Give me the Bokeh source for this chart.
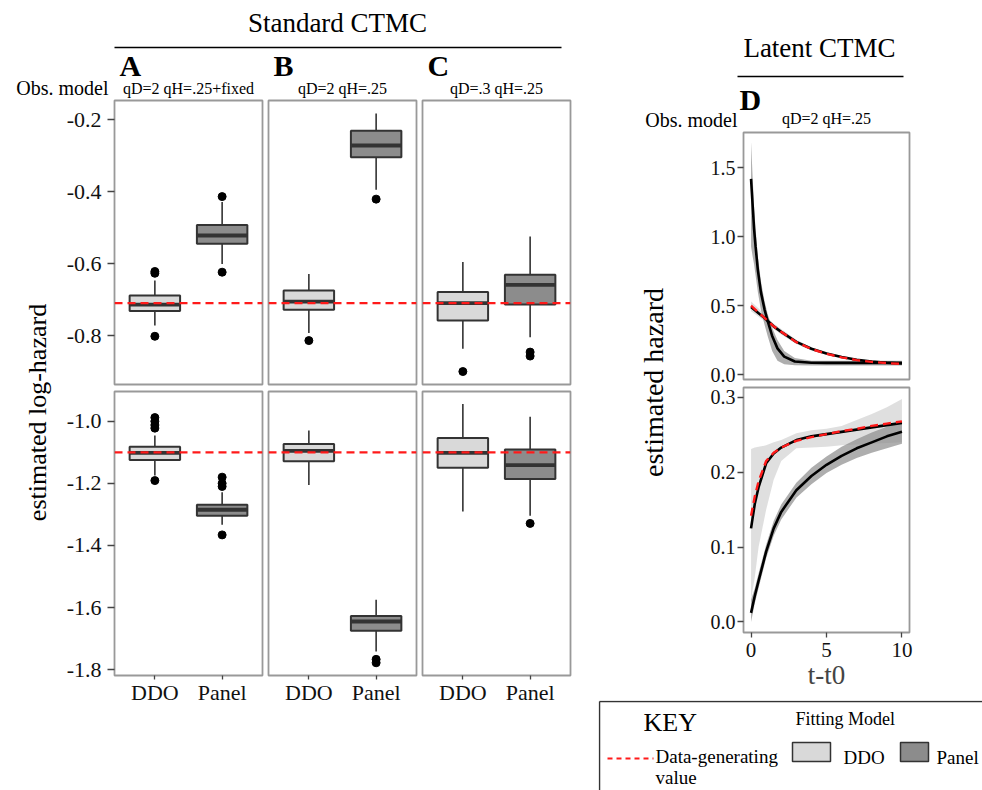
import math
from bokeh.plotting import figure
from bokeh.layouts import row, column
from bokeh.models import (Range1d, FixedTicker, Label, Span, LinearAxis,
                          NumeralTickFormatter, ColumnDataSource)
from bokeh.embed import file_html
from bokeh.resources import INLINE

# ---------------- data ----------------
models = ["DDO", "Panel"]
panel_letters = ["A", "B", "C"]
panel_strips = ["qD=2 qH=.25+fixed", "qD=2 qH=.25", "qD=.3 qH=.25"]
transitions = ["H to D", "D to H"]
true_loghaz = [-0.71, -1.10]

# [panel][model]  (panel A, B, C ; model DDO, Panel)
HtoD_lower = [[-0.772, -0.601], [-0.793, -0.395], [-0.837, -0.805]]
HtoD_q1 = [[-0.732, -0.545], [-0.728, -0.305], [-0.758, -0.714]]
HtoD_median = [[-0.714, -0.522], [-0.706, -0.272], [-0.710, -0.659]]
HtoD_q3 = [[-0.689, -0.493], [-0.675, -0.231], [-0.679, -0.631]]
HtoD_upper = [[-0.647, -0.429], [-0.629, -0.183], [-0.596, -0.525]]
HtoD_outliers = [[[-0.622, -0.627, -0.802], [-0.414, -0.624]],
                 [[-0.814], [-0.421]],
                 [[-0.900], [-0.846, -0.857]]]

DtoH_lower = [[-1.175, -1.333], [-1.205, -1.742], [-1.291, -1.304]]
DtoH_q1 = [[-1.125, -1.304], [-1.129, -1.675], [-1.150, -1.186]]
DtoH_median = [[-1.102, -1.285], [-1.095, -1.645], [-1.102, -1.141]]
DtoH_q3 = [[-1.082, -1.269], [-1.073, -1.627], [-1.054, -1.091]]
DtoH_upper = [[-1.046, -1.229], [-1.030, -1.575], [-0.944, -0.985]]
DtoH_outliers = [[[-0.988, -1.000, -1.012, -1.022, -1.191], [-1.180, -1.200, -1.210, -1.366]],
                 [[], [-1.767, -1.778]],
                 [[], [-1.329]]]

HtoD_ylim = (-0.936, -0.147)
DtoH_ylim = (-1.819, -0.904)
HtoD_ticks = [-0.8, -0.6, -0.4, -0.2]
DtoH_ticks = [-1.8, -1.6, -1.4, -1.2, -1.0]

# Latent CTMC, H to D
t_HD_panel = [0, 0.1, 0.2, 0.3, 0.45, 0.65, 0.9, 1.1, 1.4, 1.75, 2.2, 2.9, 4, 5, 6, 7, 8, 9, 10]
HD_panel_fit = [1.42, 1.24, 1.06, 0.93, 0.76, 0.60, 0.47, 0.39, 0.28, 0.19, 0.13, 0.095, 0.086,
                0.085, 0.085, 0.085, 0.085, 0.085, 0.085]
HD_panel_lo = [0.93, 0.86, 0.80, 0.72, 0.60, 0.47, 0.36, 0.28, 0.17, 0.10, 0.075, 0.068, 0.066,
               0.066, 0.066, 0.066, 0.066, 0.066, 0.066]
HD_panel_hi = [1.69, 1.45, 1.22, 1.06, 0.86, 0.68, 0.53, 0.44, 0.34, 0.25, 0.17, 0.12, 0.10,
               0.10, 0.10, 0.10, 0.10, 0.10, 0.10]
t_HD = [0, 0.5, 1, 1.5, 2, 3, 4, 5, 6, 7, 8, 9, 10]
HD_true = [0.50, 0.45, 0.40, 0.35, 0.31, 0.235, 0.185, 0.15, 0.125, 0.105, 0.092, 0.083, 0.077]
HD_ddo_fit = [0.49, 0.445, 0.40, 0.35, 0.31, 0.237, 0.187, 0.152, 0.127, 0.107, 0.094, 0.086, 0.080]
HD_ddo_lo = [0.46, 0.42, 0.38, 0.33, 0.29, 0.222, 0.175, 0.142, 0.118, 0.099, 0.087, 0.079, 0.073]
HD_ddo_hi = [0.53, 0.48, 0.42, 0.37, 0.33, 0.252, 0.199, 0.162, 0.136, 0.115, 0.101, 0.093, 0.087]

# Latent CTMC, D to H
t_DH = [0, 0.25, 0.5, 1, 1.5, 2, 3, 4, 5, 6, 7, 8, 9, 10]
DH_true = [0.142, 0.168, 0.188, 0.215, 0.226, 0.233, 0.242, 0.247, 0.251, 0.255, 0.258, 0.262, 0.265, 0.268]
DH_ddo_fit = [0.125, 0.158, 0.180, 0.212, 0.225, 0.233, 0.243, 0.248, 0.251, 0.254, 0.257, 0.260, 0.263, 0.266]
DH_ddo_lo = [0.03, 0.06, 0.10, 0.15, 0.19, 0.215, 0.232, 0.233, 0.234, 0.236, 0.237, 0.238, 0.239, 0.240]
DH_ddo_hi = [0.231, 0.233, 0.234, 0.236, 0.240, 0.243, 0.252, 0.256, 0.258, 0.262, 0.270, 0.278, 0.287, 0.298]
DH_panel_fit = [0.012, 0.035, 0.055, 0.094, 0.125, 0.147, 0.176, 0.195, 0.210, 0.222, 0.232, 0.240, 0.248, 0.254]
DH_panel_lo = [0.0, 0.025, 0.045, 0.085, 0.115, 0.137, 0.166, 0.184, 0.199, 0.210, 0.219, 0.226, 0.232, 0.238]
DH_panel_hi = [0.03, 0.045, 0.065, 0.103, 0.135, 0.157, 0.186, 0.206, 0.221, 0.234, 0.244, 0.253, 0.261, 0.268]

D_xlim = (-0.5, 10.5)
D_ylims = [(-0.036, 1.757), (-0.0142, 0.3133)]
D_yticks = [[0.0, 0.5, 1.0, 1.5], [0.0, 0.1, 0.2, 0.3]]
D_xticks = [0, 5, 10]

# ---------------- style ----------------
FONT = "Liberation Serif"
FILLS = ["#D9D9D9", "#8C8C8C"]
BOX_LINE = "#333333"
FRAME = "#999999"
RED = "#FF1A1A"
BOX_W = 0.75

# layout constants (pixel coordinates of the picture)
M = 0
YL_W = 58
FW, FH = 148, 284
HDR_L_H = 99
HDR_R_H = 131
YR_W = 100
DFW = 166
D_FH = [247, 245]
D_MT = [1, 1]
D_MB = [7, 68]
R_X = 598
R_W = 384
KEY_Y = 700
KEY_H = 90


def blank(w, h):
    p = figure(width=w, height=h, x_range=Range1d(0, w), y_range=Range1d(0, h),
               x_axis_location=None, y_axis_location=None, toolbar_location=None,
               output_backend="svg", min_border_left=0, min_border_right=0,
               min_border_top=0, min_border_bottom=0, outline_line_color=None)
    p.grid.visible = False
    return p


def put(p, origin, h, rx, ry, text, size, align="left", angle=0.0, style="normal"):
    ox, oy = origin
    p.add_layout(Label(x=rx - ox, y=h - (ry - oy), text=text, text_font=FONT,
                       text_font_size=f"{size}px", text_align=align, text_baseline="middle",
                       angle=angle, text_font_style=style, text_color="black"))


def style_axis(ax, size=22):
    ax.axis_line_color = None
    ax.major_tick_line_color = "#444444"
    ax.major_tick_line_width = 1.3
    ax.major_tick_out = 7
    ax.major_tick_in = 0
    ax.minor_tick_line_color = None
    ax.major_label_text_font = FONT
    ax.major_label_text_font_size = f"{size}px"
    ax.major_label_text_color = "#111111"
    ax.major_label_standoff = 6


def panel_fig(ml, fw, mr, mt, fh, mb, xr, yr):
    p = figure(width=ml + fw + mr, height=mt + fh + mb, x_range=xr, y_range=yr,
               x_axis_location=None, y_axis_location=None, toolbar_location=None,
               output_backend="svg", min_border_left=ml, min_border_right=mr,
               min_border_top=mt, min_border_bottom=mb)
    p.grid.visible = False
    p.outline_line_color = FRAME
    p.outline_line_width = 1.8
    return p


# ---------------- Standard CTMC box plots ----------------
row_data = [
    (HtoD_lower, HtoD_q1, HtoD_median, HtoD_q3, HtoD_upper, HtoD_outliers, HtoD_ylim, HtoD_ticks),
    (DtoH_lower, DtoH_q1, DtoH_median, DtoH_q3, DtoH_upper, DtoH_outliers, DtoH_ylim, DtoH_ticks),
]
xpos = [i + 1 for i in range(len(models))]

grid_rows = []
for r, (lw, q1, med, q3, uw, outl, ylim, yticks) in enumerate(row_data):
    yr = Range1d(*ylim)
    figs = []
    for c in range(len(panel_letters)):
        ml = 56 if c == 0 else 3
        mr = 28 if c == 2 else 3
        mt = 1 if r == 0 else 4
        mb = 3 if r == 0 else 40
        p = panel_fig(ml, FW, mr, mt, FH, mb, Range1d(0.4, 2.6), yr)
        src = ColumnDataSource(dict(
            x=xpos, lw=lw[c], q1=q1[c], med=med[c], q3=q3[c], uw=uw[c],
            x0=[x - BOX_W / 2 for x in xpos], x1=[x + BOX_W / 2 for x in xpos],
            fill=FILLS))
        p.segment(x0="x", y0="q3", x1="x", y1="uw", source=src, line_color=BOX_LINE, line_width=1.6)
        p.segment(x0="x", y0="lw", x1="x", y1="q1", source=src, line_color=BOX_LINE, line_width=1.6)
        p.vbar(x="x", width=BOX_W, bottom="q1", top="q3", source=src, fill_color="fill",
               line_color=BOX_LINE, line_width=2.0)
        p.segment(x0="x0", y0="med", x1="x1", y1="med", source=src, line_color=BOX_LINE, line_width=3.8)
        ox, oy = [], []
        for m, pts in enumerate(outl[c]):
            ox += [xpos[m]] * len(pts)
            oy += pts
        p.scatter(ox, oy, size=8, color="black")
        p.add_layout(Span(location=true_loghaz[r], dimension="width", line_color=RED,
                          line_dash="8 5", line_width=2.3))
        if c == 0:
            ax = LinearAxis(ticker=FixedTicker(ticks=yticks), formatter=NumeralTickFormatter(format="0.0"))
            style_axis(ax)
            p.add_layout(ax, "left")
        if r == 1:
            ax = LinearAxis(ticker=FixedTicker(ticks=xpos),
                            major_label_overrides={x: m for x, m in zip(xpos, models)})
            style_axis(ax)
            ax.major_tick_out = 4
            ax.major_label_standoff = 0
            p.add_layout(ax, "below")
        if c == 2:
            p.add_layout(Label(x=2.6, y=(ylim[0] + ylim[1]) / 2, x_offset=13, text=transitions[r],
                               text_font=FONT, text_font_size="23px", text_align="center",
                               text_baseline="middle", angle=-math.pi / 2))
        figs.append(p)
    grid_rows.append(row(*figs))

# header (left)
L_W = YL_W + 207 + 154 + 179
hL = blank(L_W, HDR_L_H)
oL = (M, M)
put(hL, oL, HDR_L_H, 337, 22, "Standard CTMC", 27, align="center")
hL.segment(x0=[114], y0=[HDR_L_H - 47], x1=[561], y1=[HDR_L_H - 47],
           line_color="black", line_width=1.6)
frame_lefts = [114, 268, 422]
for c in range(3):
    put(hL, oL, HDR_L_H, frame_lefts[c] + 5, 65, panel_letters[c], 30, style="bold")
    put(hL, oL, HDR_L_H, frame_lefts[c] + FW / 2, 88, panel_strips[c], 16, align="center")
put(hL, oL, HDR_L_H, 108, 87, "Obs. model", 20, align="right")

# y label (left)
ylL_h = 288 + 328
ylL = blank(YL_W, ylL_h)
put(ylL, (0, HDR_L_H), ylL_h, 37, 412, "estimated log-hazard", 26, align="center", angle=math.pi / 2)

left = column(hL, row(ylL, column(*grid_rows)))

# ---------------- Latent CTMC ----------------
D_data = [
    dict(ribbons=[(t_HD, HD_ddo_lo, HD_ddo_hi, 0), (t_HD_panel, HD_panel_lo, HD_panel_hi, 1)],
         fits=[(t_HD, HD_ddo_fit), (t_HD_panel, HD_panel_fit)], true=(t_HD, HD_true)),
    dict(ribbons=[(t_DH, DH_ddo_lo, DH_ddo_hi, 0), (t_DH, DH_panel_lo, DH_panel_hi, 1)],
         fits=[(t_DH, DH_ddo_fit), (t_DH, DH_panel_fit)], true=(t_DH, DH_true)),
]
D_ML = 45
D_MR = R_W - YR_W - D_ML - DFW
dfigs = []
for r in range(2):
    ylim = D_ylims[r]
    p = panel_fig(D_ML, DFW, D_MR, D_MT[r], D_FH[r], D_MB[r], Range1d(*D_xlim), Range1d(*ylim))
    for (tt, lo, hi, k) in D_data[r]["ribbons"]:
        p.varea(x=tt, y1=lo, y2=hi, fill_color=FILLS[k], fill_alpha=0.85 if k == 0 else 0.7)
    for (tt, yy) in D_data[r]["fits"]:
        p.line(tt, yy, line_color="black", line_width=2.6)
    tt, yy = D_data[r]["true"]
    p.line(tt, yy, line_color=RED, line_width=2.4, line_dash="8 5")
    ax = LinearAxis(ticker=FixedTicker(ticks=D_yticks[r]), formatter=NumeralTickFormatter(format="0.0"))
    style_axis(ax, 20)
    ax.major_tick_out = 6
    ax.major_label_standoff = 2
    p.add_layout(ax, "left")
    if r == 1:
        ax = LinearAxis(ticker=FixedTicker(ticks=D_xticks), formatter=NumeralTickFormatter(format="0"),
                        axis_label="t-t0")
        style_axis(ax, 21)
        ax.major_tick_out = 5
        ax.major_label_standoff = 5
        ax.axis_label_text_font = FONT
        ax.axis_label_text_font_size = "27px"
        ax.axis_label_text_font_style = "normal"
        ax.axis_label_standoff = 0
        p.add_layout(ax, "below")
    p.add_layout(Label(x=D_xlim[1], y=(ylim[0] + ylim[1]) / 2, x_offset=16, text=transitions[r],
                       text_font=FONT, text_font_size="23px", text_align="center",
                       text_baseline="middle", angle=-math.pi / 2))
    dfigs.append(p)

hR = blank(R_W, HDR_R_H)
oR = (R_X, 0)
put(hR, oR, HDR_R_H, 819, 47, "Latent CTMC", 27, align="center")
hR.segment(x0=[737 - R_X], y0=[HDR_R_H - 76], x1=[903 - R_X], y1=[HDR_R_H - 76],
           line_color="black", line_width=1.6)
put(hR, oR, HDR_R_H, 739, 99, "D", 30, style="bold")
put(hR, oR, HDR_R_H, 737, 119, "Obs. model", 20, align="right")
put(hR, oR, HDR_R_H, R_X + YR_W + D_ML + DFW / 2, 118, "qD=2 qH=.25", 16, align="center")

ylR_h = sum(D_MT) + sum(D_FH) + sum(D_MB)
ylR = blank(YR_W, ylR_h)
put(ylR, (R_X, HDR_R_H), ylR_h, 653, 382, "estimated hazard", 28, align="center", angle=math.pi / 2)

# key
key = blank(R_W, KEY_H)
oK = (R_X, KEY_Y)


def kx(v):
    return v - oK[0]


def ky(v):
    return KEY_H - (v - oK[1])


key.segment(x0=[kx(599), kx(599)], y0=[ky(701), ky(701)], x1=[kx(982), kx(599)], y1=[ky(701), ky(800)],
            line_color="#333333", line_width=1.5)
put(key, oK, KEY_H, 643, 722, "KEY", 26)
put(key, oK, KEY_H, 795, 718, "Fitting Model", 18)
key.line([kx(607), kx(653)], [ky(758), ky(758)], line_color=RED, line_width=2, line_dash="5 4")
put(key, oK, KEY_H, 655, 756, "Data-generating", 19)
put(key, oK, KEY_H, 655, 777, "value", 19)
sw_x0 = [792, 900]
sw_x1 = [830, 928]
key.quad(left=[kx(v) for v in sw_x0], right=[kx(v) for v in sw_x1],
         top=[ky(742)] * 2, bottom=[ky(761)] * 2, fill_color=FILLS, line_color="#333333", line_width=1.5)
put(key, oK, KEY_H, 843, 757, models[0], 19)
put(key, oK, KEY_H, 936, 757, models[1], 19)

right = column(hR, row(ylR, column(*dfigs)), key)

layout = row(left, right)
open("out.html", "w").write(file_html(layout, INLINE))
